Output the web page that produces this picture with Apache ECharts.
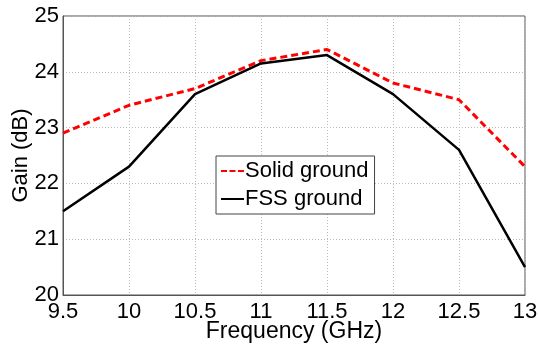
<!DOCTYPE html>
<html>
<head>
<meta charset="utf-8">
<script src="https://cdn.jsdelivr.net/npm/echarts@6/dist/echarts.min.js"></script>
<style>
  html, body { margin: 0; padding: 0; background: #fff; }
  #chart { width: 538px; height: 347px; }
</style>
</head>
<body>
<div id="chart"></div>
<script>
const freqs = [9.5, 10, 10.5, 11, 11.5, 12, 12.5, 13]
const solidGround = [22.9, 23.4, 23.7, 24.2, 24.4, 23.8, 23.5, 22.3]
const fssGround = [21.5, 22.3, 23.6, 24.15, 24.3, 23.6, 22.6, 20.5]

const pairs = (ys) => freqs.map((f, i) => [f, ys[i]])
const font = 'Liberation Sans, Arial, sans-serif'
// legend samples: short dashed and solid strokes
const dashIcon = 'path://M0,0H6V2H0Z M8.5,0H14.5V2H8.5Z M17,0H23V2H17Z'
const solidIcon = 'path://M0,0H23V2H0Z'

const chart = echarts.init(document.getElementById('chart'))
chart.setOption({
  animation: false,
  grid: {
    left: 63, right: 13, top: 16, bottom: 52,
    containLabel: false, outerBoundsMode: 'none',
    show: true, borderColor: '#555', borderWidth: 1
  },
  legend: {
    orient: 'vertical',
    left: 216,
    top: 156,
    padding: [4, 6, 4, 5],
    itemGap: 6,
    itemWidth: 23,
    itemHeight: 2,
    borderColor: '#444',
    borderWidth: 1,
    backgroundColor: '#fff',
    textStyle: { fontFamily: font, fontSize: 22, color: '#000', padding: [0, 0, 0, -4] },
    data: [
      { name: 'Solid ground', icon: dashIcon },
      { name: 'FSS ground', icon: solidIcon }
    ]
  },
  xAxis: {
    type: 'value',
    min: 9.5,
    max: 13,
    interval: 0.5,
    name: 'Frequency (GHz)',
    nameLocation: 'middle',
    nameGap: 25,
    nameMoveOverlap: false,
    nameTextStyle: { fontFamily: font, fontSize: 23, color: '#000' },
    axisLine: { show: true, onZero: false, lineStyle: { color: '#555' } },
    axisTick: { show: false },
    axisLabel: { fontFamily: font, fontSize: 22, color: '#000', margin: 6 },
    splitLine: { show: true, lineStyle: { color: '#bbb', type: [1, 2] } }
  },
  yAxis: {
    type: 'value',
    min: 20,
    max: 25,
    interval: 1,
    name: 'Gain (dB)',
    nameLocation: 'middle',
    nameGap: 31,
    nameMoveOverlap: false,
    nameTextStyle: { fontFamily: font, fontSize: 22, color: '#000' },
    axisLine: { show: true, lineStyle: { color: '#555' } },
    axisTick: { show: false },
    axisLabel: { fontFamily: font, fontSize: 22, color: '#000', margin: 4 },
    splitLine: { show: true, lineStyle: { color: '#bbb', type: [1, 2] } }
  },
  series: [
    {
      name: 'Solid ground',
      type: 'line',
      data: pairs(solidGround),
      symbol: 'none',
      itemStyle: { color: '#ff0000' },
      lineStyle: { color: '#ff0000', width: 3, type: [7, 4] }
    },
    {
      name: 'FSS ground',
      type: 'line',
      data: pairs(fssGround),
      symbol: 'none',
      itemStyle: { color: '#000' },
      lineStyle: { color: '#000', width: 2.5 }
    }
  ]
})
</script>
</body>
</html>
